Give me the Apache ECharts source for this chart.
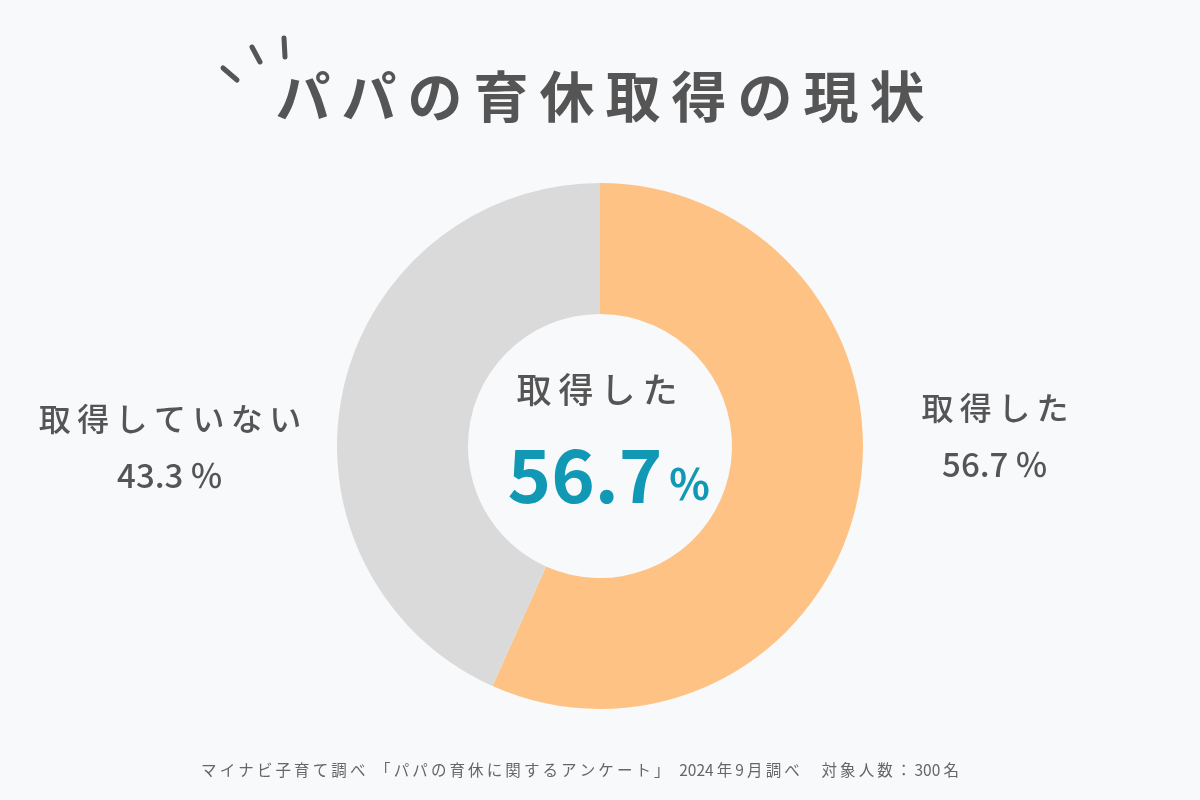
<!DOCTYPE html>
<html><head><meta charset="utf-8">
<script src="https://cdn.jsdelivr.net/npm/echarts@6/dist/echarts.min.js"></script>
<style>html,body{margin:0;padding:0;background:#f8f9fb;}#c{width:1200px;height:800px;}</style>
</head><body><div id="c"></div>
<script>
const titleText = 'パパの育休取得の現状';
const categories = ['取得した', '取得していない'];
const values = [56.7, 43.3];
const colors = ['#ffc285', '#dadada'];
const footerText = 'マイナビ子育て調べ 「パパの育休に関するアンケート」 2024年9月調べ　対象人数：300名';

const chart = echarts.init(document.getElementById('c'));
const FONT = '"Noto Sans CJK JP", sans-serif';
const sp = s => {
  const a = s.split('');
  let out = '';
  for (let i = 0; i < a.length; i++) {
    out += a[i];
    if (i < a.length - 1 && !(/[0-9.]/.test(a[i]) && /[0-9.]/.test(a[i + 1]))) out += '\u2009';
  }
  return out;
};
const labelPos = [{x: 995, y: 434}, {x: 170, y: 445}];

chart.setOption({
  backgroundColor: '#f8f9fb',
  animation: false,
  series: [{
    type: 'pie',
    center: [600, 446],
    radius: [132, 263],
    startAngle: 90,
    clockwise: true,
    silent: true,
    data: categories.map((c, i) => ({name: c, value: values[i], itemStyle: {color: colors[i]}})),
    label: {
      show: true,
      position: 'outside',
      formatter: p => '{n|' + sp(p.name) + '}\n{v|' + sp(p.value.toFixed(1) + '％') + '}',
      rich: {
        n: {fontSize: 32, fontWeight: 500, color: '#555', fontFamily: FONT, lineHeight: 60, align: 'center'},
        v: {fontSize: 33, fontWeight: 500, color: '#555', fontFamily: FONT, lineHeight: 52, align: 'center'}
      }
    },
    labelLine: {show: false},
    labelLayout: p => ({x: labelPos[p.dataIndex].x, y: labelPos[p.dataIndex].y, align: 'center', verticalAlign: 'middle'})
  }],
  graphic: [
    {type: 'text', x: 600, y: 96, style: {text: sp(titleText), fontSize: 55, fontWeight: 'bold', fill: '#555', fontFamily: FONT, align: 'center', verticalAlign: 'middle'}},
    {type: 'line', shape: {x1: 284, y1: 38, x2: 285, y2: 57}, style: {stroke: '#555', lineWidth: 5, lineCap: 'round'}},
    {type: 'line', shape: {x1: 252, y1: 47, x2: 260, y2: 62}, style: {stroke: '#555', lineWidth: 5, lineCap: 'round'}},
    {type: 'line', shape: {x1: 223, y1: 68, x2: 237, y2: 80}, style: {stroke: '#555', lineWidth: 5, lineCap: 'round'}},
    {type: 'text', x: 597, y: 390, style: {text: sp(categories[0]), fontSize: 35, fontWeight: 500, fill: '#555', fontFamily: FONT, align: 'center', verticalAlign: 'middle'}},
    {type: 'text', x: 609, y: 475, style: {
      text: '{a|' + values[0].toFixed(1) + '}{b|％}',
      align: 'center', verticalAlign: 'middle',
      rich: {
        a: {fontSize: 74, fontWeight: 'bold', fill: '#1198b4', fontFamily: FONT},
        b: {fontSize: 42, fontWeight: 'bold', fill: '#1198b4', fontFamily: FONT, padding: [18, 0, 0, 6]}
      }
    }},
    {type: 'text', x: 580, y: 770, style: {text: sp(footerText), fontSize: 15.5, fill: '#666', fontFamily: FONT, align: 'center', verticalAlign: 'middle'}}
  ]
});
</script></body></html>
